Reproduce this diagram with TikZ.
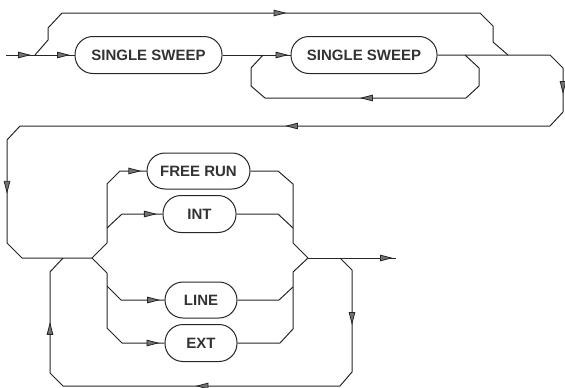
\documentclass[tikz,border=0pt]{standalone}
\usepackage{fontspec}
\setmainfont{Liberation Sans}
\usetikzlibrary{arrows.meta,decorations.markings}
\tikzset{
  tri/.tip={Triangle[length=13pt,width=6.5pt,fill=black!55,line width=0.8pt]},
  am/.style={postaction={decorate,decoration={markings,mark=at position #1 with {\arrow{tri}}}}},
  wire/.style={draw=black!85,line width=1pt,line join=round},
  bx/.style={draw=black!85,line width=1pt,rounded corners=18pt,minimum height=37pt,inner sep=0pt,
    font=\fontsize{15}{18}\selectfont\bfseries,text=black!80},
}
\begin{document}
\begin{tikzpicture}[x=1pt,y=-1pt]
\useasboundingbox (0,0) rectangle (565,388);
% nodes
\node[bx,minimum width=147pt] (ss1) at (148.5,55) {SINGLE SWEEP};
\node[bx,minimum width=146pt] (ss2) at (364,55) {SINGLE SWEEP};
\node[bx,minimum width=103pt,minimum height=36pt] (free) at (198.5,171) {FREE RUN};
\node[bx,minimum width=73pt] (int) at (199.5,214) {INT};
\node[bx,minimum width=72pt,minimum height=36pt] (line) at (201,300) {LINE};
\node[bx,minimum width=72pt] (ext) at (201,343) {EXT};
% junction coordinates
\coordinate (in) at (6,55);
\coordinate (J1) at (35,55);
\coordinate (J2) at (263,55);
\coordinate (J2b) at (465,55);
\coordinate (J3) at (508,55);
\coordinate (J4) at (92,258);
\coordinate (Jint) at (107,228);
\coordinate (Jline) at (107,286);
\coordinate (Jfu) at (293,228);
\coordinate (Jlo) at (293,287);
\coordinate (J5) at (308,258);
\coordinate (J6) at (340,258);
\coordinate (J7) at (63,258);
\coordinate (out) at (396,258);
% top section
\draw[wire,am=25pt] (in) -- (J1);
\draw[wire,am=35pt] (J1) -- (ss1.west);
\draw[wire,am=277pt] (J1) -- (48,40) -- (48,28) -- (62,13) -- (480,13) -- (493,26) -- (493,42) -- (J3);
\draw[wire,am=66pt] (ss1.east) -- (ss2.west);
\draw[wire,am=161pt] (J2b) -- (479,68) -- (479,86) -- (466,98) -- (265,98) -- (251,86) -- (251,68) -- (J2);
\draw[wire,am=157pt,am=459pt,am=797pt] (ss2.east) -- (J3) -- (550,55) -- (563,68) -- (563,112) -- (550,126)
  -- (20,126) -- (7,140) -- (7,243) -- (22,258) -- (J4);
% bottom section, entries
\draw[wire,am=120pt] (J4) -- (107,243) -- (107,184) -- (120,171) -- (free.west);
\draw[wire,am=55.5pt] (Jint) -- (122,214) -- (int.west);
\draw[wire,am=135pt] (J4) -- (107,273) -- (107,328) -- (122,343) -- (ext.west);
\draw[wire,am=59pt] (Jline) -- (121,300) -- (line.west);
% exits
\draw[wire] (free.east) -- (278,171) -- (293,184) -- (293,243) -- (J5);
\draw[wire] (int.east) -- (278,214) -- (Jfu);
\draw[wire] (ext.east) -- (280,343) -- (293,329) -- (293,272) -- (J5);
\draw[wire] (line.east) -- (279,300) -- (Jlo);
\draw[wire,am=85pt] (J5) -- (out);
\draw[wire,am=72pt,am=282pt,am=484pt] (J6) -- (352,270) -- (352,372) -- (340,386) -- (63,386) -- (50,373) -- (50,272) -- (J7);
\end{tikzpicture}
\end{document}
